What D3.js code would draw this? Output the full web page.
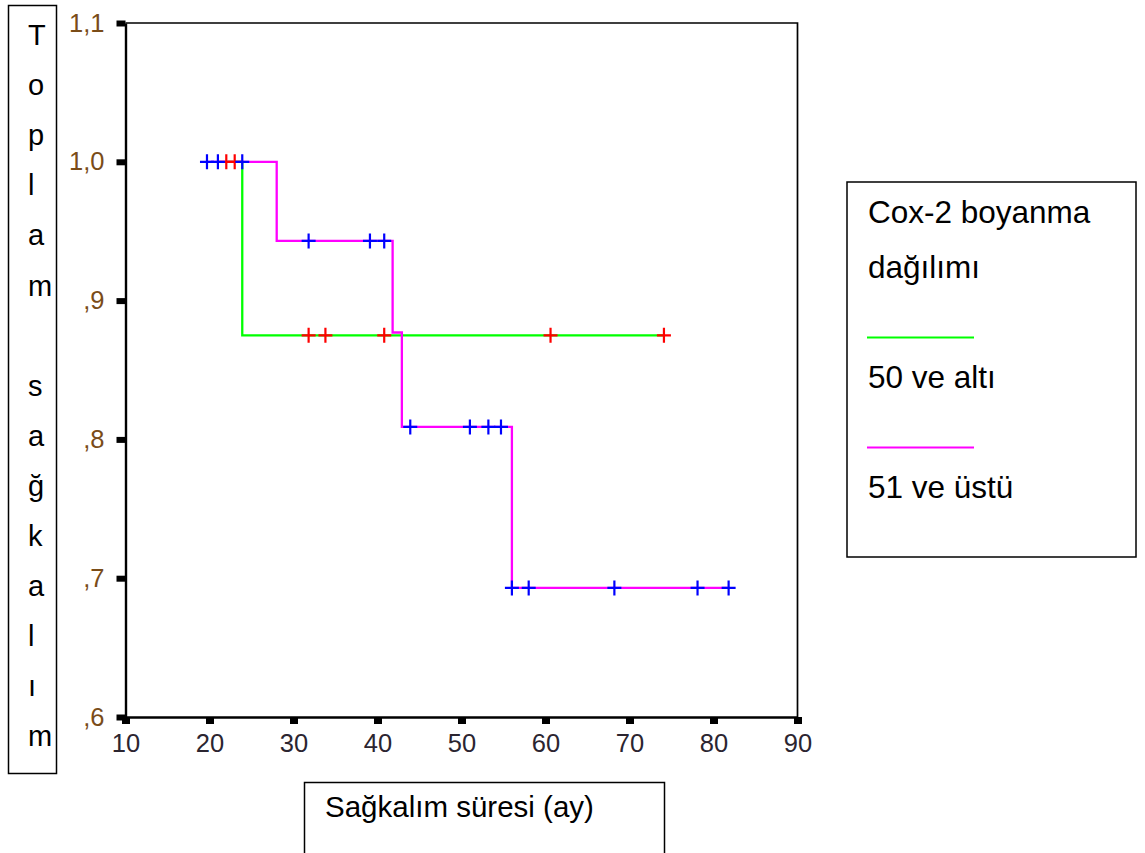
<!DOCTYPE html>
<html>
<head>
<meta charset="utf-8">
<script src="https://cdn.jsdelivr.net/npm/d3@7"></script>
<style>
  body { margin: 0; background: #ffffff; }
  text { font-family: "Liberation Sans", Arial, sans-serif; }
</style>
</head>
<body>
<div id="container"></div>
<script>
let w = 1145;
let h = 853;

// axis ticks
let xTicks = [10, 20, 30, 40, 50, 60, 70, 80, 90];
let yTicks = [0.6, 0.7, 0.8, 0.9, 1.0, 1.1];
let yTickLabels = [",6", ",7", ",8", ",9", "1,0", "1,1"];

// 50 ve altı (green line, red censor marks)
let lowTime = [22.0, 23.9, 74.1];
let lowSurv = [1.0, 0.875, 0.875];
let lowCensor = [22.0, 23.0, 31.8, 33.8, 40.8, 60.6, 74.1];

// 51 ve üstü (magenta line, blue censor marks)
let highTime = [19.7, 28.0, 41.8, 42.9, 56.0, 81.8];
let highSurv = [1.0, 0.943, 0.877, 0.809, 0.693, 0.693];
let highCensor = [19.7, 21.0, 23.9, 31.8, 39.1, 40.8, 43.9, 51.0, 53.2, 54.7, 56.0, 58.0, 68.2, 78.1, 81.8];

let yLetters = ["T", "o", "p", "l", "a", "m", "", "s", "a", "ğ", "k", "a", "l", "ı", "m"];

let viz = d3.select("#container")
  .append("svg")
  .attr("width", w)
  .attr("height", h)
  .style("background-color", "white");

let xScale = d3.scaleLinear().domain([10, 90]).range([125.5, 797.5]);
let yScale = d3.scaleLinear().domain([0.6, 1.1]).range([717, 23]);

// frame top + right
viz.append("path")
  .attr("d", `M${xScale(10)},${yScale(1.1)}H${xScale(90)}V${yScale(0.6)}`)
  .attr("fill", "none")
  .attr("stroke", "black")
  .attr("stroke-width", 1.7);

// axes
let yAxis = viz.append("g")
  .attr("transform", `translate(${xScale(10)},0)`)
  .call(d3.axisLeft(yScale).tickValues(yTicks)
    .tickFormat((d, i) => yTickLabels[i])
    .tickSizeInner(9).tickSizeOuter(0).tickPadding(12));

let xAxis = viz.append("g")
  .attr("transform", `translate(0,${yScale(0.6)})`)
  .call(d3.axisBottom(xScale).tickValues(xTicks)
    .tickSizeInner(7).tickSizeOuter(0).tickPadding(10));

viz.selectAll(".domain").attr("stroke", "black").attr("stroke-width", 2.4);
yAxis.selectAll(".tick line").attr("stroke-width", 6);
xAxis.selectAll(".tick line").attr("stroke-width", 8);
yAxis.selectAll(".tick text")
  .attr("font-size", 25.5)
  .attr("fill", "#7a4c18")
  .style("font-family", "'Liberation Sans', Arial, sans-serif");
xAxis.selectAll(".tick text")
  .attr("font-size", 25.5)
  .attr("fill", "#2b2530")
  .style("font-family", "'Liberation Sans', Arial, sans-serif");

// survival curves
let step = d3.line()
  .x(d => xScale(d[0]))
  .y(d => yScale(d[1]))
  .curve(d3.curveStepAfter);

viz.append("path")
  .datum(d3.zip(lowTime, lowSurv))
  .attr("d", step)
  .attr("fill", "none")
  .attr("stroke", "#00ff00")
  .attr("stroke-width", 2.3);

viz.append("path")
  .datum(d3.zip(highTime, highSurv))
  .attr("d", step)
  .attr("fill", "none")
  .attr("stroke", "#ff00ff")
  .attr("stroke-width", 2.3);

// censor marks
function survAt(times, surv, t) {
  let i = d3.bisectRight(times, t) - 1;
  return surv[Math.max(0, i)];
}

function drawCensors(list, times, surv, color) {
  let g = viz.append("g");
  list.forEach(t => {
    let cx = xScale(t);
    let cy = yScale(survAt(times, surv, t));
    g.append("path")
      .attr("d", `M${cx - 7},${cy}H${cx + 7}M${cx},${cy - 7.5}V${cy + 7.5}`)
      .attr("stroke", color)
      .attr("stroke-width", 2.2)
      .attr("fill", "none");
  });
}
drawCensors(lowCensor, lowTime, lowSurv, "#ff0000");
drawCensors(highCensor, highTime, highSurv, "#0000ff");

// y title box
viz.append("rect")
  .attr("x", 8.5).attr("y", 5.5)
  .attr("width", 48).attr("height", 768)
  .attr("fill", "none").attr("stroke", "black").attr("stroke-width", 1.5);

viz.selectAll(".yletter")
  .data(yLetters)
  .enter()
  .append("text")
  .attr("class", "yletter")
  .attr("x", 28)
  .attr("y", (d, i) => 45 + i * 50.1)
  .attr("font-size", 29)
  .attr("fill", "black")
  .text(d => d);

// x title box
viz.append("rect")
  .attr("x", 304.5).attr("y", 782.5)
  .attr("width", 360).attr("height", 100)
  .attr("fill", "none").attr("stroke", "black").attr("stroke-width", 1.5);

viz.append("text")
  .attr("x", 325)
  .attr("y", 817)
  .attr("font-size", 29.5)
  .text("Sağkalım süresi (ay)");

// legend box
viz.append("rect")
  .attr("x", 847).attr("y", 182)
  .attr("width", 289).attr("height", 375)
  .attr("fill", "none").attr("stroke", "black").attr("stroke-width", 1.5);

let legendText = [
  { t: "Cox-2 boyanma", y: 223 },
  { t: "dağılımı", y: 278 },
  { t: "50 ve altı", y: 388 },
  { t: "51 ve üstü", y: 498 }
];
viz.selectAll(".legtext")
  .data(legendText)
  .enter()
  .append("text")
  .attr("class", "legtext")
  .attr("x", 868)
  .attr("y", d => d.y)
  .attr("font-size", 31.5)
  .text(d => d.t);

viz.append("line")
  .attr("x1", 867).attr("x2", 974)
  .attr("y1", 337.5).attr("y2", 337.5)
  .attr("stroke", "#00ff00").attr("stroke-width", 2.2);
viz.append("line")
  .attr("x1", 867).attr("x2", 974)
  .attr("y1", 447.5).attr("y2", 447.5)
  .attr("stroke", "#ff00ff").attr("stroke-width", 2.2);
</script>
</body>
</html>
